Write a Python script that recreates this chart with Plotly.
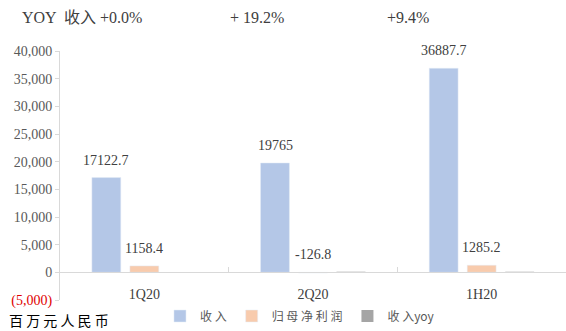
import plotly.graph_objects as go

categories = ["1Q20", "2Q20", "1H20"]
revenue = [17122.7, 19765, 36887.7]
net_profit = [1158.4, -126.8, 1285.2]
revenue_yoy = [0.0, 19.2, 9.4]
revenue_labels = ["17122.7", "19765", "36887.7"]
profit_labels = ["1158.4", "-126.8", "1285.2"]
yoy_header = ["YOY  收入 +0.0%", "+ 19.2%", "+9.4%"]
tick_vals = [-5000, 0, 5000, 10000, 15000, 20000, 25000, 30000, 35000, 40000]
tick_text = ['<span style="color:#e00000">(5,000)</span>', "0", "5,000", "10,000", "15,000",
             "20,000", "25,000", "30,000", "35,000", "40,000"]

SERIF = "Liberation Serif, Noto Sans CJK SC, serif"
CJK = "Noto Sans CJK SC, Liberation Serif, sans-serif"

fig = go.Figure()
fig.add_trace(go.Bar(name="收 入", x=categories, y=revenue, marker_color="#B4C7E7"))
fig.add_trace(go.Bar(name="归 母 净 利 润", x=categories, y=net_profit, marker_color="#F8CBAD"))
fig.add_trace(go.Bar(name="收 入yoy", x=categories, y=revenue_yoy, marker_color="#A5A5A5",
                     marker_line=dict(color="#BFBFBF",
                                      width=[1 if v != 0 else 0 for v in revenue_yoy])))

# data labels
step = 38
for series_idx, (vals, labels) in enumerate([(revenue, revenue_labels), (net_profit, profit_labels)]):
    for c, v, lab in zip(categories, vals, labels):
        fig.add_annotation(x=c, y=max(v, 0), text=lab, showarrow=False, xref="x", yref="y",
                           xshift=(series_idx - 1) * step, yanchor="bottom", yshift=8,
                           font=dict(family=SERIF, size=14, color="#404040"))

W, H = 566, 331
L, T, B = 60, 51, 31
pw = W - L
ph = H - T - B

def px_x(px):
    return (px - L) / pw

def px_y(py):
    return (H - B - py) / ph

for px, t in zip([20, 228, 385], yoy_header):
    fig.add_annotation(x=px_x(px), y=px_y(18), xref="paper", yref="paper", text=t,
                       showarrow=False, xanchor="left", yanchor="middle",
                       font=dict(family=SERIF, size=16, color="#404040"))

fig.add_annotation(x=px_x(7), y=px_y(320), xref="paper", yref="paper",
                   text="百 万 元 人 民 币", showarrow=False, xanchor="left", yanchor="middle",
                   font=dict(family=CJK, size=14, color="#000000"))

fig.update_layout(
    width=W, height=H,
    margin=dict(l=L, r=0, t=T, b=B, autoexpand=False),
    paper_bgcolor="white", plot_bgcolor="white",
    barmode="group", bargap=0.324, bargroupgap=0.24,
    showlegend=True,
    legend=dict(orientation="h", x=0.53, xanchor="center", xref="container",
                y=(H - 316) / H, yanchor="middle", yref="container",
                font=dict(family=CJK, size=12, color="#595959"),
                itemwidth=30, traceorder="normal"),
    font=dict(family=SERIF, color="#595959"),
)

fig.update_yaxes(range=[-5000, 40000], tickvals=tick_vals, ticktext=tick_text,
                 showgrid=False, zeroline=False, showline=True, linecolor="#D9D9D9",
                 ticks="outside", ticklen=4, tickcolor="#D9D9D9",
                 tickfont=dict(family=SERIF, size=14, color="#595959"))
fig.update_xaxes(range=[-0.5, 2.5], anchor="free", position=5000 / 45000,
                 showgrid=False, zeroline=False, showline=True, linecolor="#D9D9D9",
                 ticks="inside", tickson="boundaries", ticklen=5, tickcolor="#D9D9D9",
                 ticklabelstandoff=9,
                 tickfont=dict(family=SERIF, size=14, color="#404040"))

fig.write_html("out.html")
